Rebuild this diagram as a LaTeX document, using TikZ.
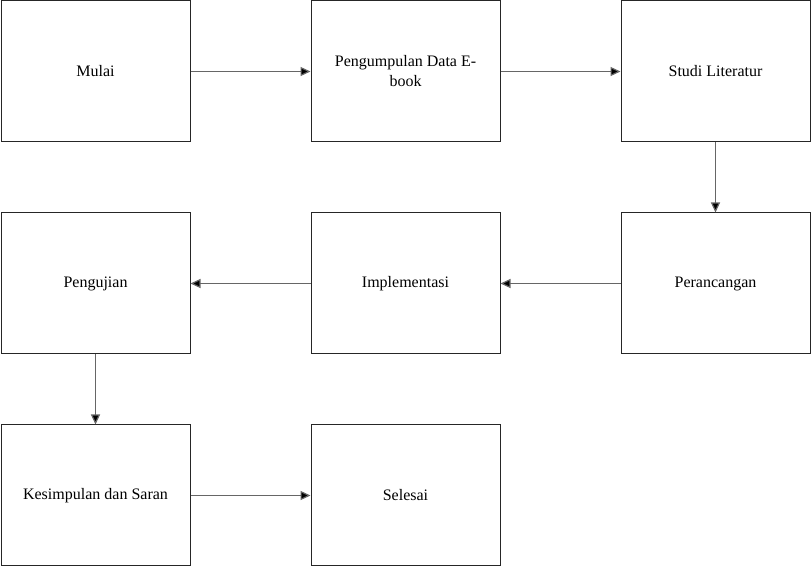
\documentclass[tikz,border=0pt]{standalone}
\usepackage{fontspec}
\setmainfont{Liberation Serif}
\usetikzlibrary{arrows.meta}
\begin{document}
\begin{tikzpicture}[x=1pt,y=1pt,
  stepbox/.style={draw=black!85,line width=1pt,minimum width=189pt,minimum height=141pt,inner sep=0pt,align=center,font=\fontsize{16}{20}\selectfont},
  conn/.style={draw=black!60,line width=1.2pt,-{Triangle[length=10pt,width=9pt,fill=black]}}]
\useasboundingbox (0,0) rectangle (812,568);
\node[stepbox] (mulai) at (95.5,496.5) {Mulai};
\node[stepbox] (data) at (405.5,496.5) {Pengumpulan Data E-\\book};
\node[stepbox] (studi) at (715.5,496.5) {Studi Literatur};
\node[stepbox] (peran) at (715.5,284.5) {Perancangan};
\node[stepbox] (impl) at (405.5,284.5) {Implementasi};
\node[stepbox] (uji) at (95.5,284.5) {Pengujian};
\node[stepbox] (kes) at (95.5,72.5) {Kesimpulan dan Saran};
\node[stepbox] (sel) at (405.5,72.5) {Selesai};
\draw[conn] (mulai) -- (data);
\draw[conn] (data) -- (studi);
\draw[conn] (studi) -- (peran);
\draw[conn] (peran) -- (impl);
\draw[conn] (impl) -- (uji);
\draw[conn] (uji) -- (kes);
\draw[conn] (kes) -- (sel);
\end{tikzpicture}
\end{document}
